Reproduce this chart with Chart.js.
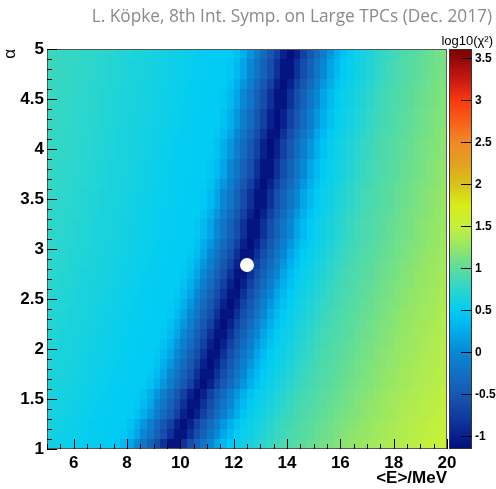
<!DOCTYPE html>
<html><head><meta charset="utf-8">
<script src="https://cdn.jsdelivr.net/npm/chart.js@4/dist/chart.umd.min.js"></script>
<style>html,body{margin:0;padding:0;background:#fff;}#wrap{position:relative;width:496px;height:489px;}</style>
</head><body><div id="wrap"><canvas id="c" width="496" height="489"></canvas></div>
<script>
// ---- data ----
const energyCenters = [5.125,5.375,5.625,5.875,6.125,6.375,6.625,6.875,7.125,7.375,7.625,7.875,8.125,8.375,8.625,8.875,9.125,9.375,9.625,9.875,10.125,10.375,10.625,10.875,11.125,11.375,11.625,11.875,12.125,12.375,12.625,12.875,13.125,13.375,13.625,13.875,14.125,14.375,14.625,14.875,15.125,15.375,15.625,15.875,16.125,16.375,16.625,16.875,17.125,17.375,17.625,17.875,18.125,18.375,18.625,18.875,19.125,19.375,19.625,19.875];
const energyBinWidth = 0.25;
const alphaCenters = [1.05,1.15,1.25,1.35,1.45,1.55,1.65,1.75,1.85,1.95,2.05,2.15,2.25,2.35,2.45,2.55,2.65,2.75,2.85,2.95,3.05,3.15,3.25,3.35,3.45,3.55,3.65,3.75,3.85,3.95,4.05,4.15,4.25,4.35,4.45,4.55,4.65,4.75,4.85,4.95];
const alphaBinWidth = 0.1;
// log10(chi^2): one row per alpha bin (bottom to top), one value per energy bin
const log10Chi2 = [
[0.6,0.58,0.57,0.55,0.54,0.53,0.52,0.51,0.5,0.5,0.46,0.36,0.2,0,-0.2,-0.4,-0.6,-0.85,-1.08,-1.08,-0.85,-0.6,-0.4,-0.2,0,0.2,0.36,0.49,0.55,0.6,0.65,0.7,0.75,0.81,0.86,0.9,0.93,0.97,1,1.04,1.07,1.1,1.13,1.17,1.2,1.23,1.26,1.28,1.31,1.33,1.36,1.38,1.4,1.42,1.44,1.46,1.48,1.5,1.51,1.53],
[0.61,0.6,0.58,0.57,0.55,0.54,0.53,0.52,0.51,0.5,0.5,0.46,0.36,0.2,0,-0.2,-0.4,-0.6,-0.85,-1.08,-1.08,-0.85,-0.6,-0.4,-0.2,0,0.2,0.36,0.49,0.55,0.6,0.65,0.7,0.75,0.81,0.86,0.9,0.93,0.97,1,1.04,1.07,1.1,1.13,1.17,1.2,1.23,1.26,1.28,1.31,1.33,1.36,1.38,1.4,1.42,1.44,1.46,1.48,1.5,1.51],
[0.62,0.61,0.59,0.58,0.56,0.55,0.53,0.52,0.51,0.51,0.5,0.49,0.42,0.28,0.1,-0.1,-0.3,-0.5,-0.72,-0.98,-1.12,-0.98,-0.72,-0.5,-0.3,-0.1,0.1,0.28,0.43,0.53,0.57,0.62,0.67,0.73,0.78,0.83,0.88,0.92,0.95,0.99,1.02,1.05,1.09,1.12,1.15,1.18,1.21,1.24,1.27,1.3,1.32,1.35,1.37,1.39,1.41,1.43,1.45,1.47,1.49,1.5],
[0.63,0.62,0.61,0.59,0.58,0.56,0.55,0.53,0.52,0.51,0.51,0.5,0.49,0.42,0.28,0.1,-0.1,-0.3,-0.5,-0.72,-0.98,-1.12,-0.98,-0.72,-0.5,-0.3,-0.1,0.1,0.28,0.43,0.53,0.57,0.62,0.67,0.73,0.78,0.83,0.88,0.92,0.95,0.99,1.02,1.05,1.09,1.12,1.15,1.18,1.21,1.24,1.27,1.3,1.32,1.35,1.37,1.39,1.41,1.43,1.45,1.47,1.49],
[0.64,0.63,0.61,0.6,0.58,0.57,0.55,0.54,0.53,0.52,0.51,0.5,0.5,0.46,0.36,0.2,0,-0.2,-0.4,-0.6,-0.85,-1.08,-1.08,-0.85,-0.6,-0.4,-0.2,0,0.2,0.36,0.49,0.55,0.6,0.65,0.7,0.75,0.81,0.86,0.9,0.93,0.97,1,1.04,1.07,1.1,1.13,1.17,1.2,1.23,1.26,1.28,1.31,1.33,1.36,1.38,1.4,1.42,1.44,1.46,1.48],
[0.65,0.63,0.62,0.61,0.59,0.58,0.56,0.55,0.53,0.52,0.51,0.51,0.5,0.49,0.42,0.28,0.1,-0.1,-0.3,-0.5,-0.72,-0.98,-1.12,-0.98,-0.72,-0.5,-0.3,-0.1,0.1,0.28,0.43,0.53,0.57,0.62,0.67,0.73,0.78,0.83,0.88,0.92,0.95,0.99,1.02,1.05,1.09,1.12,1.15,1.18,1.21,1.24,1.27,1.3,1.32,1.35,1.37,1.39,1.41,1.43,1.45,1.47],
[0.66,0.65,0.63,0.62,0.61,0.59,0.58,0.56,0.55,0.53,0.52,0.51,0.51,0.5,0.49,0.42,0.28,0.1,-0.1,-0.3,-0.5,-0.72,-0.98,-1.12,-0.98,-0.72,-0.5,-0.3,-0.1,0.1,0.28,0.43,0.53,0.57,0.62,0.67,0.73,0.78,0.83,0.88,0.92,0.95,0.99,1.02,1.05,1.09,1.12,1.15,1.18,1.21,1.24,1.27,1.3,1.32,1.35,1.37,1.39,1.41,1.43,1.45],
[0.66,0.65,0.64,0.63,0.61,0.6,0.58,0.57,0.55,0.54,0.53,0.52,0.51,0.5,0.5,0.46,0.36,0.2,0,-0.2,-0.4,-0.6,-0.85,-1.08,-1.08,-0.85,-0.6,-0.4,-0.2,0,0.2,0.36,0.49,0.55,0.6,0.65,0.7,0.75,0.81,0.86,0.9,0.93,0.97,1,1.04,1.07,1.1,1.13,1.17,1.2,1.23,1.26,1.28,1.31,1.33,1.36,1.38,1.4,1.42,1.44],
[0.67,0.66,0.65,0.63,0.62,0.61,0.59,0.58,0.56,0.55,0.53,0.52,0.51,0.51,0.5,0.49,0.42,0.28,0.1,-0.1,-0.3,-0.5,-0.72,-0.98,-1.12,-0.98,-0.72,-0.5,-0.3,-0.1,0.1,0.28,0.43,0.53,0.57,0.62,0.67,0.73,0.78,0.83,0.88,0.92,0.95,0.99,1.02,1.05,1.09,1.12,1.15,1.18,1.21,1.24,1.27,1.3,1.32,1.35,1.37,1.39,1.41,1.43],
[0.68,0.66,0.65,0.64,0.63,0.61,0.6,0.58,0.57,0.55,0.54,0.53,0.52,0.51,0.5,0.5,0.46,0.36,0.2,0,-0.2,-0.4,-0.6,-0.85,-1.08,-1.08,-0.85,-0.6,-0.4,-0.2,0,0.2,0.36,0.49,0.55,0.6,0.65,0.7,0.75,0.81,0.86,0.9,0.93,0.97,1,1.04,1.07,1.1,1.13,1.17,1.2,1.23,1.26,1.28,1.31,1.33,1.36,1.38,1.4,1.42],
[0.69,0.67,0.66,0.65,0.63,0.62,0.61,0.59,0.58,0.56,0.55,0.53,0.52,0.51,0.51,0.5,0.49,0.42,0.28,0.1,-0.1,-0.3,-0.5,-0.72,-0.98,-1.12,-0.98,-0.72,-0.5,-0.3,-0.1,0.1,0.28,0.43,0.53,0.57,0.62,0.67,0.73,0.78,0.83,0.88,0.92,0.95,0.99,1.02,1.05,1.09,1.12,1.15,1.18,1.21,1.24,1.27,1.3,1.32,1.35,1.37,1.39,1.41],
[0.69,0.68,0.66,0.65,0.64,0.63,0.61,0.6,0.58,0.57,0.55,0.54,0.53,0.52,0.51,0.5,0.5,0.46,0.36,0.2,0,-0.2,-0.4,-0.6,-0.85,-1.08,-1.08,-0.85,-0.6,-0.4,-0.2,0,0.2,0.36,0.49,0.55,0.6,0.65,0.7,0.75,0.81,0.86,0.9,0.93,0.97,1,1.04,1.07,1.1,1.13,1.17,1.2,1.23,1.26,1.28,1.31,1.33,1.36,1.38,1.4],
[0.7,0.69,0.67,0.66,0.65,0.63,0.62,0.61,0.59,0.58,0.56,0.55,0.53,0.52,0.51,0.51,0.5,0.49,0.42,0.28,0.1,-0.1,-0.3,-0.5,-0.72,-0.98,-1.12,-0.98,-0.72,-0.5,-0.3,-0.1,0.1,0.28,0.43,0.53,0.57,0.62,0.67,0.73,0.78,0.83,0.88,0.92,0.95,0.99,1.02,1.05,1.09,1.12,1.15,1.18,1.21,1.24,1.27,1.3,1.32,1.35,1.37,1.39],
[0.71,0.69,0.68,0.66,0.65,0.64,0.63,0.61,0.6,0.58,0.57,0.55,0.54,0.53,0.52,0.51,0.5,0.5,0.46,0.36,0.2,0,-0.2,-0.4,-0.6,-0.85,-1.08,-1.08,-0.85,-0.6,-0.4,-0.2,0,0.2,0.36,0.49,0.55,0.6,0.65,0.7,0.75,0.81,0.86,0.9,0.93,0.97,1,1.04,1.07,1.1,1.13,1.17,1.2,1.23,1.26,1.28,1.31,1.33,1.36,1.38],
[0.72,0.7,0.69,0.67,0.66,0.65,0.63,0.62,0.61,0.59,0.58,0.56,0.55,0.53,0.52,0.51,0.51,0.5,0.49,0.42,0.28,0.1,-0.1,-0.3,-0.5,-0.72,-0.98,-1.12,-0.98,-0.72,-0.5,-0.3,-0.1,0.1,0.28,0.43,0.53,0.57,0.62,0.67,0.73,0.78,0.83,0.88,0.92,0.95,0.99,1.02,1.05,1.09,1.12,1.15,1.18,1.21,1.24,1.27,1.3,1.32,1.35,1.37],
[0.72,0.71,0.69,0.68,0.66,0.65,0.64,0.63,0.61,0.6,0.58,0.57,0.55,0.54,0.53,0.52,0.51,0.5,0.5,0.46,0.36,0.2,0,-0.2,-0.4,-0.6,-0.85,-1.08,-1.08,-0.85,-0.6,-0.4,-0.2,0,0.2,0.36,0.49,0.55,0.6,0.65,0.7,0.75,0.81,0.86,0.9,0.93,0.97,1,1.04,1.07,1.1,1.13,1.17,1.2,1.23,1.26,1.28,1.31,1.33,1.36],
[0.73,0.72,0.7,0.69,0.67,0.66,0.65,0.63,0.62,0.61,0.59,0.58,0.56,0.55,0.53,0.52,0.51,0.51,0.5,0.49,0.42,0.28,0.1,-0.1,-0.3,-0.5,-0.72,-0.98,-1.12,-0.98,-0.72,-0.5,-0.3,-0.1,0.1,0.28,0.43,0.53,0.57,0.62,0.67,0.73,0.78,0.83,0.88,0.92,0.95,0.99,1.02,1.05,1.09,1.12,1.15,1.18,1.21,1.24,1.27,1.3,1.32,1.35],
[0.74,0.72,0.71,0.69,0.68,0.66,0.65,0.64,0.63,0.61,0.6,0.58,0.57,0.55,0.54,0.53,0.52,0.51,0.5,0.5,0.46,0.36,0.2,0,-0.2,-0.4,-0.6,-0.85,-1.08,-1.08,-0.85,-0.6,-0.4,-0.2,0,0.2,0.36,0.49,0.55,0.6,0.65,0.7,0.75,0.81,0.86,0.9,0.93,0.97,1,1.04,1.07,1.1,1.13,1.17,1.2,1.23,1.26,1.28,1.31,1.33],
[0.74,0.73,0.72,0.7,0.69,0.67,0.66,0.65,0.63,0.62,0.61,0.59,0.58,0.56,0.55,0.53,0.52,0.51,0.51,0.5,0.49,0.42,0.28,0.1,-0.1,-0.3,-0.5,-0.72,-0.98,-1.12,-0.98,-0.72,-0.5,-0.3,-0.1,0.1,0.28,0.43,0.53,0.57,0.62,0.67,0.73,0.78,0.83,0.88,0.92,0.95,0.99,1.02,1.05,1.09,1.12,1.15,1.18,1.21,1.24,1.27,1.3,1.32],
[0.75,0.74,0.72,0.71,0.69,0.68,0.66,0.65,0.64,0.63,0.61,0.6,0.58,0.57,0.55,0.54,0.53,0.52,0.51,0.5,0.5,0.46,0.36,0.2,0,-0.2,-0.4,-0.6,-0.85,-1.08,-1.08,-0.85,-0.6,-0.4,-0.2,0,0.2,0.36,0.49,0.55,0.6,0.65,0.7,0.75,0.81,0.86,0.9,0.93,0.97,1,1.04,1.07,1.1,1.13,1.17,1.2,1.23,1.26,1.28,1.31],
[0.76,0.74,0.73,0.72,0.7,0.69,0.67,0.66,0.65,0.63,0.62,0.61,0.59,0.58,0.56,0.55,0.53,0.52,0.51,0.51,0.5,0.49,0.42,0.28,0.1,-0.1,-0.3,-0.5,-0.72,-0.98,-1.12,-0.98,-0.72,-0.5,-0.3,-0.1,0.1,0.28,0.43,0.53,0.57,0.62,0.67,0.73,0.78,0.83,0.88,0.92,0.95,0.99,1.02,1.05,1.09,1.12,1.15,1.18,1.21,1.24,1.27,1.3],
[0.76,0.75,0.74,0.72,0.71,0.69,0.68,0.66,0.65,0.64,0.63,0.61,0.6,0.58,0.57,0.55,0.54,0.53,0.52,0.51,0.5,0.5,0.46,0.36,0.2,0,-0.2,-0.4,-0.6,-0.85,-1.08,-1.08,-0.85,-0.6,-0.4,-0.2,0,0.2,0.36,0.49,0.55,0.6,0.65,0.7,0.75,0.81,0.86,0.9,0.93,0.97,1,1.04,1.07,1.1,1.13,1.17,1.2,1.23,1.26,1.28],
[0.76,0.75,0.74,0.72,0.71,0.69,0.68,0.66,0.65,0.64,0.63,0.61,0.6,0.58,0.57,0.55,0.54,0.53,0.52,0.51,0.5,0.5,0.46,0.36,0.2,0,-0.2,-0.4,-0.6,-0.85,-1.08,-1.08,-0.85,-0.6,-0.4,-0.2,0,0.2,0.36,0.49,0.55,0.6,0.65,0.7,0.75,0.81,0.86,0.9,0.93,0.97,1,1.04,1.07,1.1,1.13,1.17,1.2,1.23,1.26,1.28],
[0.77,0.76,0.74,0.73,0.72,0.7,0.69,0.67,0.66,0.65,0.63,0.62,0.61,0.59,0.58,0.56,0.55,0.53,0.52,0.51,0.51,0.5,0.49,0.42,0.28,0.1,-0.1,-0.3,-0.5,-0.72,-0.98,-1.12,-0.98,-0.72,-0.5,-0.3,-0.1,0.1,0.28,0.43,0.53,0.57,0.62,0.67,0.73,0.78,0.83,0.88,0.92,0.95,0.99,1.02,1.05,1.09,1.12,1.15,1.18,1.21,1.24,1.27],
[0.77,0.76,0.75,0.74,0.72,0.71,0.69,0.68,0.66,0.65,0.64,0.63,0.61,0.6,0.58,0.57,0.55,0.54,0.53,0.52,0.51,0.5,0.5,0.46,0.36,0.2,0,-0.2,-0.4,-0.6,-0.85,-1.08,-1.08,-0.85,-0.6,-0.4,-0.2,0,0.2,0.36,0.49,0.55,0.6,0.65,0.7,0.75,0.81,0.86,0.9,0.93,0.97,1,1.04,1.07,1.1,1.13,1.17,1.2,1.23,1.26],
[0.77,0.76,0.75,0.74,0.72,0.71,0.69,0.68,0.66,0.65,0.64,0.63,0.61,0.6,0.58,0.57,0.55,0.54,0.53,0.52,0.51,0.5,0.5,0.46,0.36,0.2,0,-0.2,-0.4,-0.6,-0.85,-1.08,-1.08,-0.85,-0.6,-0.4,-0.2,0,0.2,0.36,0.49,0.55,0.6,0.65,0.7,0.75,0.81,0.86,0.9,0.93,0.97,1,1.04,1.07,1.1,1.13,1.17,1.2,1.23,1.26],
[0.78,0.77,0.76,0.74,0.73,0.72,0.7,0.69,0.67,0.66,0.65,0.63,0.62,0.61,0.59,0.58,0.56,0.55,0.53,0.52,0.51,0.51,0.5,0.49,0.42,0.28,0.1,-0.1,-0.3,-0.5,-0.72,-0.98,-1.12,-0.98,-0.72,-0.5,-0.3,-0.1,0.1,0.28,0.43,0.53,0.57,0.62,0.67,0.73,0.78,0.83,0.88,0.92,0.95,0.99,1.02,1.05,1.09,1.12,1.15,1.18,1.21,1.24],
[0.79,0.77,0.76,0.75,0.74,0.72,0.71,0.69,0.68,0.66,0.65,0.64,0.63,0.61,0.6,0.58,0.57,0.55,0.54,0.53,0.52,0.51,0.5,0.5,0.46,0.36,0.2,0,-0.2,-0.4,-0.6,-0.85,-1.08,-1.08,-0.85,-0.6,-0.4,-0.2,0,0.2,0.36,0.49,0.55,0.6,0.65,0.7,0.75,0.81,0.86,0.9,0.93,0.97,1,1.04,1.07,1.1,1.13,1.17,1.2,1.23],
[0.79,0.77,0.76,0.75,0.74,0.72,0.71,0.69,0.68,0.66,0.65,0.64,0.63,0.61,0.6,0.58,0.57,0.55,0.54,0.53,0.52,0.51,0.5,0.5,0.46,0.36,0.2,0,-0.2,-0.4,-0.6,-0.85,-1.08,-1.08,-0.85,-0.6,-0.4,-0.2,0,0.2,0.36,0.49,0.55,0.6,0.65,0.7,0.75,0.81,0.86,0.9,0.93,0.97,1,1.04,1.07,1.1,1.13,1.17,1.2,1.23],
[0.79,0.78,0.77,0.76,0.74,0.73,0.72,0.7,0.69,0.67,0.66,0.65,0.63,0.62,0.61,0.59,0.58,0.56,0.55,0.53,0.52,0.51,0.51,0.5,0.49,0.42,0.28,0.1,-0.1,-0.3,-0.5,-0.72,-0.98,-1.12,-0.98,-0.72,-0.5,-0.3,-0.1,0.1,0.28,0.43,0.53,0.57,0.62,0.67,0.73,0.78,0.83,0.88,0.92,0.95,0.99,1.02,1.05,1.09,1.12,1.15,1.18,1.21],
[0.79,0.78,0.77,0.76,0.74,0.73,0.72,0.7,0.69,0.67,0.66,0.65,0.63,0.62,0.61,0.59,0.58,0.56,0.55,0.53,0.52,0.51,0.51,0.5,0.49,0.42,0.28,0.1,-0.1,-0.3,-0.5,-0.72,-0.98,-1.12,-0.98,-0.72,-0.5,-0.3,-0.1,0.1,0.28,0.43,0.53,0.57,0.62,0.67,0.73,0.78,0.83,0.88,0.92,0.95,0.99,1.02,1.05,1.09,1.12,1.15,1.18,1.21],
[0.8,0.79,0.77,0.76,0.75,0.74,0.72,0.71,0.69,0.68,0.66,0.65,0.64,0.63,0.61,0.6,0.58,0.57,0.55,0.54,0.53,0.52,0.51,0.5,0.5,0.46,0.36,0.2,0,-0.2,-0.4,-0.6,-0.85,-1.08,-1.08,-0.85,-0.6,-0.4,-0.2,0,0.2,0.36,0.49,0.55,0.6,0.65,0.7,0.75,0.81,0.86,0.9,0.93,0.97,1,1.04,1.07,1.1,1.13,1.17,1.2],
[0.8,0.79,0.78,0.77,0.76,0.74,0.73,0.72,0.7,0.69,0.67,0.66,0.65,0.63,0.62,0.61,0.59,0.58,0.56,0.55,0.53,0.52,0.51,0.51,0.5,0.49,0.42,0.28,0.1,-0.1,-0.3,-0.5,-0.72,-0.98,-1.12,-0.98,-0.72,-0.5,-0.3,-0.1,0.1,0.28,0.43,0.53,0.57,0.62,0.67,0.73,0.78,0.83,0.88,0.92,0.95,0.99,1.02,1.05,1.09,1.12,1.15,1.18],
[0.8,0.79,0.78,0.77,0.76,0.74,0.73,0.72,0.7,0.69,0.67,0.66,0.65,0.63,0.62,0.61,0.59,0.58,0.56,0.55,0.53,0.52,0.51,0.51,0.5,0.49,0.42,0.28,0.1,-0.1,-0.3,-0.5,-0.72,-0.98,-1.12,-0.98,-0.72,-0.5,-0.3,-0.1,0.1,0.28,0.43,0.53,0.57,0.62,0.67,0.73,0.78,0.83,0.88,0.92,0.95,0.99,1.02,1.05,1.09,1.12,1.15,1.18],
[0.81,0.8,0.79,0.77,0.76,0.75,0.74,0.72,0.71,0.69,0.68,0.66,0.65,0.64,0.63,0.61,0.6,0.58,0.57,0.55,0.54,0.53,0.52,0.51,0.5,0.5,0.46,0.36,0.2,0,-0.2,-0.4,-0.6,-0.85,-1.08,-1.08,-0.85,-0.6,-0.4,-0.2,0,0.2,0.36,0.49,0.55,0.6,0.65,0.7,0.75,0.81,0.86,0.9,0.93,0.97,1,1.04,1.07,1.1,1.13,1.17],
[0.81,0.8,0.79,0.77,0.76,0.75,0.74,0.72,0.71,0.69,0.68,0.66,0.65,0.64,0.63,0.61,0.6,0.58,0.57,0.55,0.54,0.53,0.52,0.51,0.5,0.5,0.46,0.36,0.2,0,-0.2,-0.4,-0.6,-0.85,-1.08,-1.08,-0.85,-0.6,-0.4,-0.2,0,0.2,0.36,0.49,0.55,0.6,0.65,0.7,0.75,0.81,0.86,0.9,0.93,0.97,1,1.04,1.07,1.1,1.13,1.17],
[0.81,0.8,0.79,0.78,0.77,0.76,0.74,0.73,0.72,0.7,0.69,0.67,0.66,0.65,0.63,0.62,0.61,0.59,0.58,0.56,0.55,0.53,0.52,0.51,0.51,0.5,0.49,0.42,0.28,0.1,-0.1,-0.3,-0.5,-0.72,-0.98,-1.12,-0.98,-0.72,-0.5,-0.3,-0.1,0.1,0.28,0.43,0.53,0.57,0.62,0.67,0.73,0.78,0.83,0.88,0.92,0.95,0.99,1.02,1.05,1.09,1.12,1.15],
[0.82,0.81,0.8,0.79,0.77,0.76,0.75,0.74,0.72,0.71,0.69,0.68,0.66,0.65,0.64,0.63,0.61,0.6,0.58,0.57,0.55,0.54,0.53,0.52,0.51,0.5,0.5,0.46,0.36,0.2,0,-0.2,-0.4,-0.6,-0.85,-1.08,-1.08,-0.85,-0.6,-0.4,-0.2,0,0.2,0.36,0.49,0.55,0.6,0.65,0.7,0.75,0.81,0.86,0.9,0.93,0.97,1,1.04,1.07,1.1,1.13],
[0.82,0.81,0.8,0.79,0.77,0.76,0.75,0.74,0.72,0.71,0.69,0.68,0.66,0.65,0.64,0.63,0.61,0.6,0.58,0.57,0.55,0.54,0.53,0.52,0.51,0.5,0.5,0.46,0.36,0.2,0,-0.2,-0.4,-0.6,-0.85,-1.08,-1.08,-0.85,-0.6,-0.4,-0.2,0,0.2,0.36,0.49,0.55,0.6,0.65,0.7,0.75,0.81,0.86,0.9,0.93,0.97,1,1.04,1.07,1.1,1.13],
[0.82,0.81,0.8,0.79,0.78,0.77,0.76,0.74,0.73,0.72,0.7,0.69,0.67,0.66,0.65,0.63,0.62,0.61,0.59,0.58,0.56,0.55,0.53,0.52,0.51,0.51,0.5,0.49,0.42,0.28,0.1,-0.1,-0.3,-0.5,-0.72,-0.98,-1.12,-0.98,-0.72,-0.5,-0.3,-0.1,0.1,0.28,0.43,0.53,0.57,0.62,0.67,0.73,0.78,0.83,0.88,0.92,0.95,0.99,1.02,1.05,1.09,1.12]
];
const bestFit = [{x: 12.5, y: 2.84}];
const xTickValues = [6,8,10,12,14,16,18,20];
const yTickValues = [1,1.5,2,2.5,3,3.5,4,4.5,5];
const zTickValues = [-1,-0.5,0,0.5,1,1.5,2,2.5,3,3.5];
const zRange = [-1.15, 3.61];
const titleText = 'L. Köpke, 8th Int. Symp. on Large TPCs (Dec. 2017)';
const zTitle = 'log10(χ²)';

// ---- palette (style) ----
const paletteStops = [
 [-1.15,[0,12,120]],[-1.0,[8,30,140]],[-0.75,[16,62,160]],[-0.5,[22,88,176]],[-0.25,[18,112,196]],
 [0.0,[8,136,210]],[0.25,[0,172,236]],[0.5,[0,204,244]],[0.75,[44,214,204]],[1.0,[92,220,156]],
 [1.25,[148,230,104]],[1.5,[196,240,60]],[1.75,[216,236,24]],[2.0,[214,196,24]],[2.25,[228,160,32]],
 [2.5,[240,136,40]],[2.75,[248,96,24]],[3.0,[250,56,16]],[3.25,[200,24,16]],[3.5,[144,8,8]],[3.61,[124,0,0]]
];
function colorFor(v){
  if (v <= paletteStops[0][0]) return 'rgb('+paletteStops[0][1].join(',')+')';
  for (let i=1;i<paletteStops.length;i++){
    const [v1,c1] = paletteStops[i];
    if (v <= v1){
      const [v0,c0] = paletteStops[i-1];
      const t = (v-v0)/(v1-v0);
      return 'rgb('+c0.map((c,j)=>Math.round(c+(c1[j]-c)*t)).join(',')+')';
    }
  }
  return 'rgb('+paletteStops[paletteStops.length-1][1].join(',')+')';
}

const FONT = '"Liberation Sans", Arial, Helvetica, sans-serif';

const heatmapPlugin = {
  id: 'heatmap',
  beforeDatasetsDraw(chart){
    const {ctx, chartArea: a, scales: {x, y, z}} = chart;
    ctx.save();
    ctx.beginPath(); ctx.rect(a.left, a.top, a.right-a.left, a.bottom-a.top); ctx.clip();
    for (let r=0;r<alphaCenters.length;r++){
      const yT = Math.round(y.getPixelForValue(alphaCenters[r]+alphaBinWidth/2));
      const yB = Math.round(y.getPixelForValue(alphaCenters[r]-alphaBinWidth/2));
      for (let c=0;c<energyCenters.length;c++){
        const xL = Math.round(x.getPixelForValue(energyCenters[c]-energyBinWidth/2));
        const xR = Math.round(x.getPixelForValue(energyCenters[c]+energyBinWidth/2));
        ctx.fillStyle = colorFor(log10Chi2[r][c]);
        ctx.fillRect(xL, yT, xR-xL, yB-yT);
      }
    }
    ctx.restore();
    // colour bar
    const bx0 = a.right + 2, bx1 = a.right + 25;
    const yTop = z.getPixelForValue(zRange[1]), yBot = z.getPixelForValue(zRange[0]);
    const g = ctx.createLinearGradient(0, yBot, 0, yTop);
    paletteStops.forEach(([v,c])=>{
      g.addColorStop(Math.min(1,Math.max(0,(v-zRange[0])/(zRange[1]-zRange[0]))), 'rgb('+c.join(',')+')');
    });
    ctx.save();
    ctx.fillStyle = g;
    ctx.fillRect(bx0, yTop, bx1-bx0, yBot-yTop);
    ctx.strokeStyle = '#333'; ctx.lineWidth = 1;
    ctx.strokeRect(bx0+0.5, yTop+0.5, bx1-bx0-1, yBot-yTop-1);
    ctx.strokeStyle = '#000';
    ctx.beginPath();
    zTickValues.forEach(v=>{
      const py = Math.round(z.getPixelForValue(v))+0.5;
      ctx.moveTo(bx1-11, py); ctx.lineTo(bx1, py);
    });
    ctx.stroke();
    ctx.fillStyle = '#000';
    ctx.font = '13px ' + FONT;
    ctx.textAlign = 'right'; ctx.textBaseline = 'alphabetic';
    ctx.fillText(zTitle, 493, 45);
    ctx.restore();
  },
  afterDatasetsDraw(chart){
    const {ctx, chartArea: a, scales: {x, y}} = chart;
    ctx.save();
    ctx.strokeStyle = '#555'; ctx.lineWidth = 1;
    ctx.strokeRect(a.left+0.5, a.top+0.5, a.right-a.left-1, a.bottom-a.top-1);
    ctx.strokeStyle = '#000';
    ctx.beginPath();
    for (let v=10; v<=50; v++){
      const py = Math.round(y.getPixelForValue(v/10))+0.5;
      const len = (v % 5 === 0) ? 10 : 5;
      ctx.moveTo(a.left, py); ctx.lineTo(a.left+len, py);
    }
    for (let v=10; v<=40; v++){
      const px = Math.round(x.getPixelForValue(v/2))+0.5;
      const len = (v % 4 === 0) ? 10 : 5;
      ctx.moveTo(px, a.bottom); ctx.lineTo(px, a.bottom-len);
    }
    ctx.stroke();
    ctx.fillStyle = '#8a8a8a';
    ctx.font = '17.3px "Open Sans", "Noto Sans", sans-serif';
    ctx.textAlign = 'right'; ctx.textBaseline = 'alphabetic';
    ctx.fillText(titleText, 492, 22);
    ctx.restore();
  }
};

new Chart(document.getElementById('c'), {
  type: 'scatter',
  data: { datasets: [{ data: bestFit, pointRadius: 7, pointHoverRadius: 7, backgroundColor: '#fff', borderColor: '#fff', borderWidth: 0 }] },
  options: {
    responsive: false, animation: false, events: [],
    layout: { padding: { top: 49, left: 0, right: 0, bottom: 0 } },
    plugins: { legend: { display: false }, tooltip: { enabled: false } },
    scales: {
      x: {
        type: 'linear', position: 'bottom', min: 5, max: 20,
        grid: { display: false, drawTicks: false, tickLength: 0 }, border: { display: false },
        afterBuildTicks: s => { s.ticks = xTickValues.map(v => ({ value: v })); },
        afterFit: s => { s.height = 40; },
        ticks: { autoSkip: false, maxRotation: 0, padding: 4, color: '#000', font: { family: FONT, size: 17, weight: 'bold' }, callback: v => String(v) },
        title: { display: true, text: '<E>/MeV', align: 'end', color: '#000', padding: 0, font: { family: FONT, size: 17, weight: 'bold' } }
      },
      y: {
        type: 'linear', position: 'left', min: 1, max: 5,
        grid: { display: false, drawTicks: false, tickLength: 0 }, border: { display: false },
        afterBuildTicks: s => { s.ticks = yTickValues.map(v => ({ value: v })); },
        afterFit: s => { s.width = 47; },
        ticks: { autoSkip: false, padding: 3, color: '#000', font: { family: FONT, size: 17, weight: 'bold' }, callback: v => String(v) },
        title: { display: true, text: 'α', align: 'end', color: '#000', padding: 0, font: { family: FONT, size: 17, weight: 'normal' } }
      },
      z: {
        type: 'linear', axis: 'y', position: 'right', min: zRange[0], max: zRange[1],
        grid: { display: false, drawTicks: false, tickLength: 0 }, border: { display: false },
        afterBuildTicks: s => { s.ticks = zTickValues.map(v => ({ value: v })); },
        afterFit: s => { s.width = 49; },
        ticks: { autoSkip: false, padding: 28, color: '#000', font: { family: FONT, size: 12, weight: 'bold' }, callback: v => String(v) }
      }
    }
  },
  plugins: [heatmapPlugin]
});
</script></body></html>
